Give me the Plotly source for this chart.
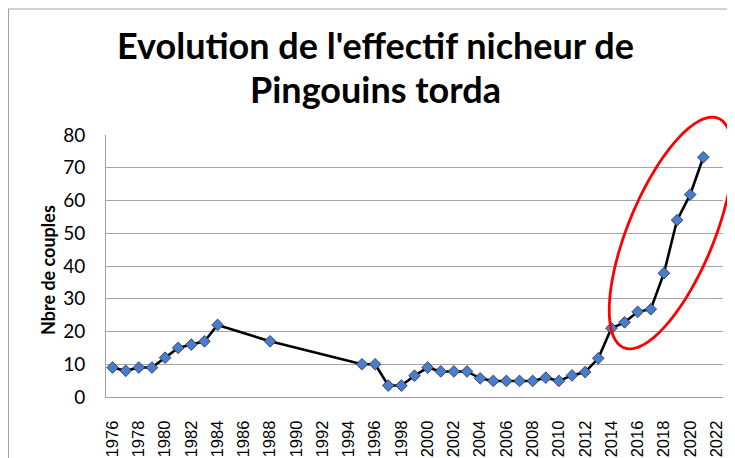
import math
import plotly.graph_objects as go

# ---- data ----
years = [1976, 1977, 1978, 1979, 1980, 1981, 1982, 1983, 1984, 1988,
         1995, 1996, 1997, 1998, 1999, 2000, 2001, 2002, 2003, 2004,
         2005, 2006, 2007, 2008, 2009, 2010, 2011, 2012, 2013, 2014,
         2015, 2016, 2017, 2018, 2019, 2020, 2021]
couples = [9, 8, 9, 9, 12, 15, 16, 17, 22, 17,
           10, 10, 3.5, 3.5, 6.5, 9, 7.8, 7.8, 7.8, 5.7,
           4.9, 4.9, 4.9, 4.9, 5.9, 4.9, 6.6, 7.6, 11.8, 21,
           22.8, 26, 26.8, 37.8, 54, 61.8, 73.2]
x_ticks = list(range(1976, 2023, 2))
y_ticks = [0, 10, 20, 30, 40, 50, 60, 70, 80]

title_lines = ["Evolution de l'effectif nicheur de", "Pingouins torda"]
y_title = "Nbre de couples"

# ---- geometry (pixels in the browser window; page body has an 8px margin) ----
OFF = 8
W, H = 735 - OFF, 458 - OFF
L, R, T, B = 106 - OFF, 723 - OFF, 135 - OFF, 397 - OFF


def px(xp):
    return (xp - OFF - L) / (R - L)


def py(yp):
    return (B - (yp - OFF)) / (B - T)


fig = go.Figure()
fig.add_trace(go.Scatter(
    x=years, y=couples, mode="lines+markers",
    line=dict(color="#000000", width=2.6),
    marker=dict(symbol="diamond", size=9, color="#4A7DC9",
                line=dict(color="#1F2F4F", width=0.8)),
    showlegend=False, cliponaxis=False,
))

# red ellipse highlighting recent growth
cx, cy, a, b, th = 671, 233, 124, 43, math.radians(67.6)
pts = []
for i in range(121):
    t = 2 * math.pi * i / 120
    ux = a * math.cos(t) * math.cos(th) - b * math.sin(t) * math.sin(th)
    uy = a * math.cos(t) * math.sin(th) + b * math.sin(t) * math.cos(th)
    pts.append((px(cx + ux), py(cy - uy)))
path = "M " + " L ".join(f"{x:.5f},{y:.5f}" for x, y in pts) + " Z"

shapes = [
    dict(type="path", path=path, xref="paper", yref="paper",
         line=dict(color="#FF0000", width=2.8), layer="above"),
    dict(type="rect", xref="paper", yref="paper",
         x0=px(8.5), x1=px(760), y0=py(9), y1=py(480),
         line=dict(color="#A6A6A6", width=1.2), layer="below"),
]

annotations = [
    dict(text=title_lines[0], x=px(375), y=py(45), xref="paper", yref="paper",
         showarrow=False, xanchor="center", yanchor="middle",
         font=dict(family="Lato", size=36, color="#000000", weight="bold")),
    dict(text=title_lines[1], x=px(375), y=py(89), xref="paper", yref="paper",
         showarrow=False, xanchor="center", yanchor="middle",
         font=dict(family="Lato", size=36, color="#000000", weight="bold")),
    dict(text=y_title, x=px(48), y=py(270), xref="paper", yref="paper",
         showarrow=False, xanchor="center", yanchor="middle", textangle=-90,
         font=dict(family="Lato", size=18, color="#000000", weight="bold")),
]

fig.update_layout(
    width=W, height=H,
    margin=dict(l=L, r=W - R, t=T, b=H - B, pad=0, autoexpand=False),
    paper_bgcolor="#FFFFFF", plot_bgcolor="#FFFFFF",
    shapes=shapes, annotations=annotations,
    xaxis=dict(range=[1975.5, 2022.5], tickvals=x_ticks,
               ticktext=[str(v) for v in x_ticks], tickangle=-90,
               automargin=False,
               showgrid=False, zeroline=False, showline=True,
               linecolor="#A0A0A0", linewidth=1, ticks="",
               ticklabelstandoff=16,
               tickfont=dict(family="Liberation Sans", size=16.5, color="#000000")),
    yaxis=dict(range=[0, 80], tickvals=y_ticks, automargin=False,
               showgrid=True, gridcolor="#A6A6A6", gridwidth=1,
               zeroline=False, showline=True, linecolor="#A0A0A0",
               linewidth=1, ticks="", ticklabelstandoff=16,
               tickfont=dict(family="Lato", size=19, color="#000000")),
)

fig.write_html("out.html", config={"displayModeBar": False})
